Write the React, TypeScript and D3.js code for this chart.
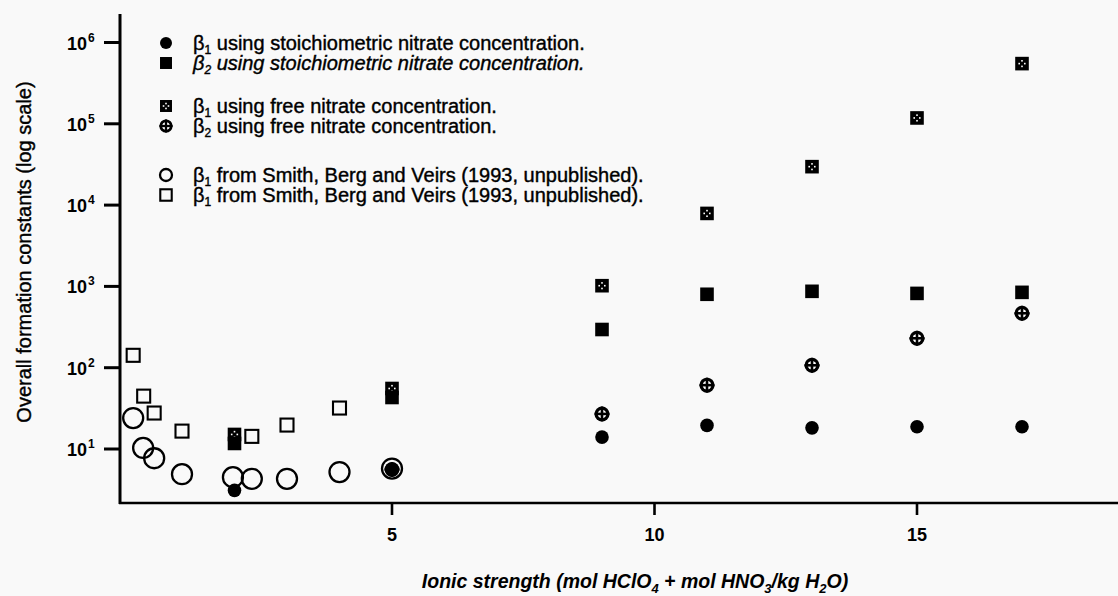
import React from "react";
import * as d3 from "d3";

// ---- Data ----
const stoichX = [2, 5, 9, 11, 13, 15, 17];
const beta1Stoich = [3.1, 5.6, 14, 19.5, 18.2, 18.8, 18.8];
const beta2Stoich = [11.7, 43, 295, 800, 870, 820, 845];

const freeB1X = [2, 5, 9, 11, 13, 15, 17];
const beta1Free = [15.1, 55.5, 1020, 7900, 29700, 118000, 550000];

const freeB2X = [5, 9, 11, 13, 15, 17];
const beta2Free = [5.6, 27, 61, 107, 230, 467];

const smithCircleX = [0.07, 0.26, 0.47, 1, 1.97, 2.33, 3, 4, 5];
const smithCircle = [24, 10.3, 7.7, 4.9, 4.5, 4.3, 4.3, 5.2, 5.75];

const smithSquareX = [0.07, 0.27, 0.47, 1, 2.33, 3, 4];
const smithSquare = [142, 44.7, 27.7, 16.6, 14.3, 19.7, 31.9];

const xTicks = [5, 10, 15];
const yTickExps = [1, 2, 3, 4, 5, 6];

const FONT = "'Liberation Sans', Arial, Helvetica, sans-serif";

type Kind = "fc" | "fs" | "bx" | "cc" | "oc" | "os";

function Marker({ kind, x, y, s = 1 }: { kind: Kind; x: number; y: number; s?: number }) {
  if (kind === "fc") return <circle cx={x} cy={y} r={6.8 * s} fill="#000" />;
  if (kind === "fs") {
    const h = 6.8 * s;
    return <rect x={x - h} y={y - h} width={2 * h} height={2 * h} fill="#000" />;
  }
  if (kind === "bx") {
    const h = 6.8 * s;
    const d = 2.8 * s;
    return (
      <g>
        <rect x={x - h} y={y - h} width={2 * h} height={2 * h} fill="#000" />
        {[
          [0, -d],
          [-d, 0],
          [d, 0],
          [0, d],
        ].map(([dx, dy], i) => (
          <rect key={i} x={x + dx - 0.8} y={y + dy - 0.8} width={1.6} height={1.6} fill="#fff" />
        ))}
      </g>
    );
  }
  if (kind === "cc") {
    const r = 7.5 * s;
    return (
      <g>
        <circle cx={x} cy={y} r={r} fill="#000" />
        <circle cx={x} cy={y} r={4.3 * s} fill="#fff" />
        <line x1={x - r} x2={x + r} y1={y} y2={y} stroke="#000" strokeWidth={2.6 * s} />
        <line x1={x} x2={x} y1={y - r} y2={y + r} stroke="#000" strokeWidth={2.6 * s} />
      </g>
    );
  }
  if (kind === "oc")
    return <circle cx={x} cy={y} r={10 * s} fill="none" stroke="#000" strokeWidth={2.3} />;
  const h = 6.5 * s;
  return (
    <rect x={x - h} y={y - h} width={2 * h} height={2 * h} fill="none" stroke="#000" strokeWidth={2.1} />
  );
}

export default function App() {
  const W = 1118;
  const H = 596;
  const x = d3.scaleLinear().domain([-9.5 / 52.5, (1118 - 129.5) / 52.5]).range([120, 1118]);
  const y = d3
    .scaleLog()
    .domain([Math.pow(10, 1 - 54 / 81.3), Math.pow(10, 1 + 435 / 81.3)])
    .range([503, 14]);

  const legend: { kind: Kind; sub: string; text: string; italic?: boolean; ly: number }[] = [
    { kind: "fc", sub: "1", text: " using stoichiometric nitrate concentration.", ly: 43 },
    { kind: "fs", sub: "2", text: " using stoichiometric nitrate concentration.", italic: true, ly: 63 },
    { kind: "bx", sub: "1", text: " using free nitrate concentration.", ly: 106 },
    { kind: "cc", sub: "2", text: " using free nitrate concentration.", ly: 126 },
    { kind: "oc", sub: "1", text: " from Smith, Berg and Veirs (1993, unpublished).", ly: 175 },
    { kind: "os", sub: "1", text: " from Smith, Berg and Veirs (1993, unpublished).", ly: 195 },
  ];

  const heavy = { stroke: "#000", strokeWidth: 0.4 };

  return (
    <svg width={W} height={H} style={{ display: "block", position: "absolute", left: 0, top: 0 }}>
      <rect width={W} height={H} fill="#f9f9f9" />
      {/* axes */}
      <line x1={120} x2={120} y1={14} y2={504} stroke="#000" strokeWidth={3} />
      <line x1={119} x2={1118} y1={503} y2={503} stroke="#000" strokeWidth={2.6} />
      {yTickExps.map((e) => {
        const ty = y(Math.pow(10, e));
        return (
          <g key={e}>
            <line x1={104} x2={120} y1={ty} y2={ty} stroke="#000" strokeWidth={3} />
            <text x={87} y={ty + 7} textAnchor="end" fontFamily={FONT} fontWeight="bold" fontSize={18}>
              10
            </text>
            <text x={88} y={ty - 1} fontFamily={FONT} fontWeight="bold" fontSize={12}>
              {e}
            </text>
          </g>
        );
      })}
      {xTicks.map((t) => (
        <g key={t}>
          <line x1={x(t)} x2={x(t)} y1={503} y2={515} stroke="#000" strokeWidth={2.6} />
          <text x={x(t)} y={541} textAnchor="middle" fontFamily={FONT} fontWeight="bold" fontSize={18}>
            {t}
          </text>
        </g>
      ))}
      {/* axis titles */}
      <text
        transform={`translate(31,252) rotate(-90)`}
        textAnchor="middle"
        fontFamily={FONT}
        fontSize={20}
        fill="#000"
        {...heavy}
      >
        Overall formation constants (log scale)
      </text>
      <text x={635} y={588} textAnchor="middle" fontFamily={FONT} fontStyle="italic" fontWeight="bold" fontSize={19.5}>
        Ionic strength (mol HClO
        <tspan fontSize={13} dy={5}>4</tspan>
        <tspan dy={-5}> + mol HNO</tspan>
        <tspan fontSize={13} dy={5}>3</tspan>
        <tspan dy={-5}>/kg H</tspan>
        <tspan fontSize={13} dy={5}>2</tspan>
        <tspan dy={-5}>O)</tspan>
      </text>

      {/* data */}
      {smithCircle.map((v, i) => (
        <Marker key={"oc" + i} kind="oc" x={x(smithCircleX[i])} y={y(v)} />
      ))}
      {smithSquare.map((v, i) => (
        <Marker key={"os" + i} kind="os" x={x(smithSquareX[i])} y={y(v)} />
      ))}
      {beta1Free.map((v, i) => (
        <Marker key={"bx" + i} kind="bx" x={x(freeB1X[i])} y={y(v)} />
      ))}
      {beta2Free.map((v, i) => (
        <Marker key={"cc" + i} kind="cc" x={x(freeB2X[i])} y={y(v)} />
      ))}
      {beta2Stoich.map((v, i) => (
        <Marker key={"fs" + i} kind="fs" x={x(stoichX[i])} y={y(v)} />
      ))}
      {beta1Stoich.map((v, i) => (
        <Marker key={"fc" + i} kind="fc" x={x(stoichX[i])} y={y(v)} />
      ))}

      {/* legend */}
      {legend.map((l, i) => (
        <g key={i}>
          <Marker kind={l.kind} x={166} y={l.ly} s={l.kind === "oc" ? 0.6 : 0.88} />
          <text
            x={193}
            y={l.ly + 6.5}
            fontFamily={FONT}
            fontSize={20}
            fontStyle={l.italic ? "italic" : "normal"}
            {...heavy}
          >
            β<tspan fontSize={12} dy={4}>{l.sub}</tspan>
            <tspan dy={-4}>{l.text}</tspan>
          </text>
        </g>
      ))}
    </svg>
  );
}
